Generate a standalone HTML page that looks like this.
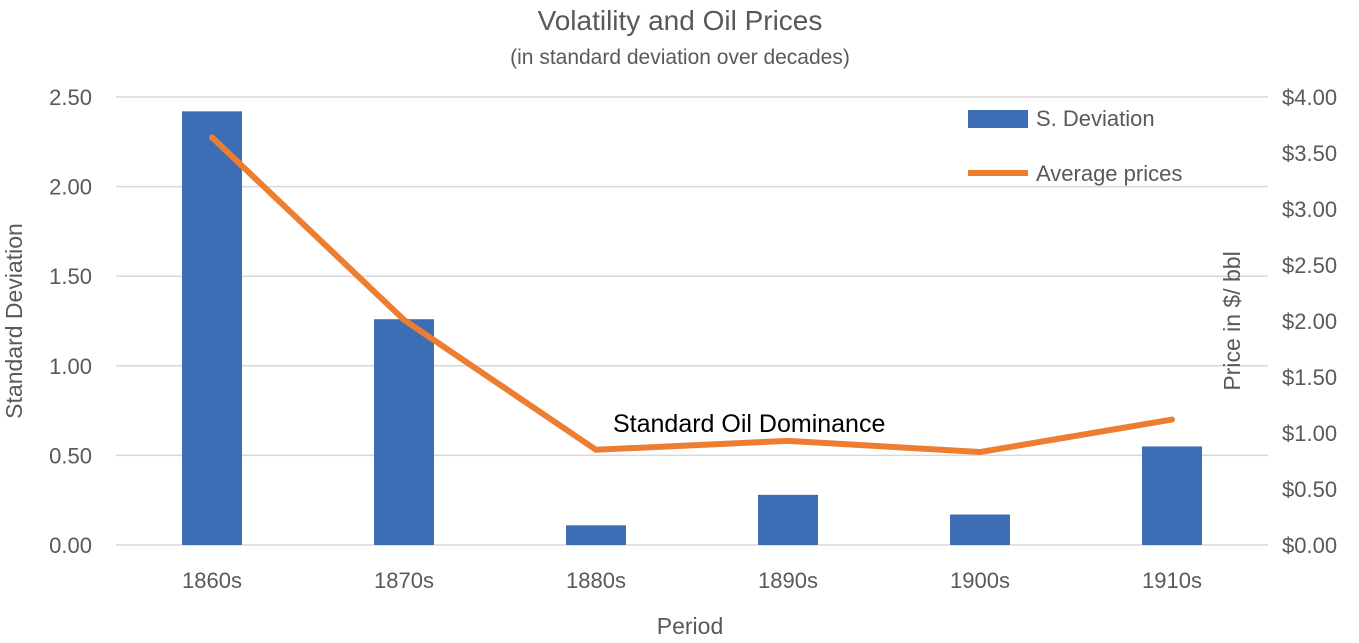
<!DOCTYPE html>
<html><head><meta charset="utf-8"><style>
body{margin:0;background:#fff;}
svg text{font-family:"Liberation Sans",sans-serif;fill:#595959;}
</style></head><body>
<svg width="1359" height="638" viewBox="0 0 1359 638">
<text x="680" y="30" text-anchor="middle" font-size="28">Volatility and Oil Prices</text>
<text x="680" y="64" text-anchor="middle" font-size="21">(in standard deviation over decades)</text>
<g id="grid"></g><g id="bars"></g><g id="line"></g><g id="ticks"></g>
<text x="613" y="432" font-size="25" style="fill:#000">Standard Oil Dominance</text>
<text transform="translate(22,321) rotate(-90)" text-anchor="middle" font-size="23">Standard Deviation</text>
<text transform="translate(1240,321) rotate(-90)" text-anchor="middle" font-size="23">Price in $/ bbl</text>
<text x="690" y="634" text-anchor="middle" font-size="23">Period</text>
<g>
<rect x="968" y="110" width="60" height="18" fill="#3d6db5"/>
<text x="1036" y="126" font-size="22">S. Deviation</text>
<line x1="968" y1="173" x2="1028" y2="173" stroke="#ed7d31" stroke-width="6"/>
<text x="1036" y="181" font-size="22">Average prices</text>
</g>
</svg>
<script>
const categories=["1860s","1870s","1880s","1890s","1900s","1910s"];
const sdevValues=[2.42,1.26,0.11,0.28,0.17,0.55];
const priceValues=[3.64,2.01,0.85,0.93,0.83,1.12];
const leftTicks=["0.00","0.50","1.00","1.50","2.00","2.50"];
const rightTicks=["$0.00","$0.50","$1.00","$1.50","$2.00","$2.50","$3.00","$3.50","$4.00"];
const NS="http://www.w3.org/2000/svg";
const x0=116,step=192,yTop=97,yBot=545;
const xc=i=>x0+step*(i+0.5);
const yL=v=>yBot-(v/2.5)*(yBot-yTop);
const yR=v=>yBot-(v/4)*(yBot-yTop);
function mk(t,a,p){const e=document.createElementNS(NS,t);for(const k in a)e.setAttribute(k,a[k]);document.getElementById(p).appendChild(e);return e;}
leftTicks.forEach((t,i)=>{const v=parseFloat(t);
const g=mk('line',{x1:x0,x2:x0+step*6,y1:yL(v),y2:yL(v),stroke:'#d9d9d9','stroke-width':1.5},'grid');


const l=mk('text',{x:92,y:yL(v)+8,'text-anchor':'end','font-size':22},'ticks');l.textContent=t;

});
rightTicks.forEach(t=>{const v=parseFloat(t.slice(1));
const l=mk('text',{x:1282,y:yR(v)+8,'font-size':22},'ticks');l.textContent=t;

});
categories.forEach((c,i)=>{
const b=mk('rect',{x:xc(i)-30,y:yL(sdevValues[i]),width:60,height:yBot-yL(sdevValues[i]),fill:'#3d6db5'},'bars');


const l=mk('text',{x:xc(i),y:588,'text-anchor':'middle','font-size':22},'ticks');l.textContent=c;

});
const p=mk('polyline',{points:priceValues.map((v,i)=>xc(i)+','+yR(v)).join(' '),fill:'none',stroke:'#ed7d31','stroke-width':6,'stroke-linejoin':'round','stroke-linecap':'round'},'line');


</script>
</body></html>
